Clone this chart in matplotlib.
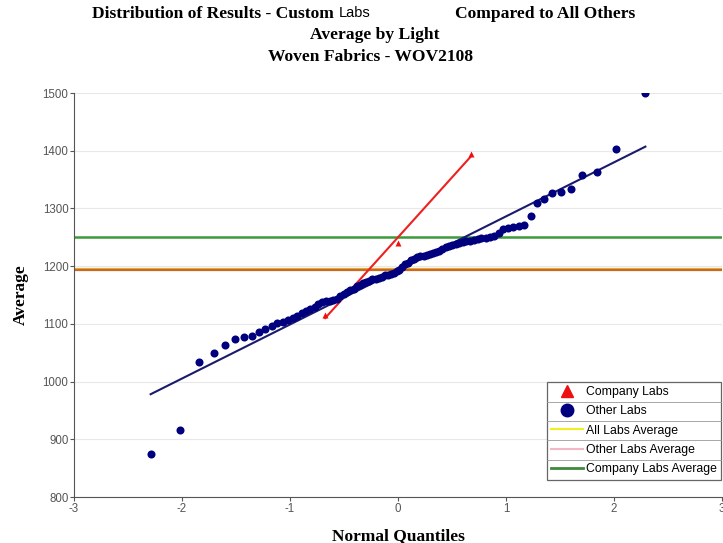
import numpy as np
import matplotlib
matplotlib.use('Agg')
import matplotlib.pyplot as plt
from matplotlib.lines import Line2D
from statistics import NormalDist

plt.rcParams['axes.unicode_minus'] = False

# 데이터
other_labs = [875, 916, 1034, 1049, 1063, 1074, 1077, 1079, 1086, 1091,
              1097, 1101, 1103, 1106, 1110, 1114, 1118, 1122, 1126, 1130,
              1135, 1138, 1139, 1140, 1141, 1143, 1148, 1152, 1155, 1158,
              1161, 1165, 1168, 1171, 1173, 1175, 1177, 1178, 1180, 1182,
              1184, 1185, 1187, 1189, 1191, 1194, 1199, 1203, 1206, 1210,
              1213, 1215, 1217, 1218, 1219, 1221, 1223, 1225, 1227, 1230,
              1233, 1235, 1237, 1239, 1240, 1242, 1243, 1244, 1245, 1247,
              1248, 1249, 1251, 1253, 1257, 1264, 1266, 1268, 1269, 1272,
              1287, 1309, 1316, 1327, 1328, 1334, 1358, 1363, 1403, 1500]
company_labs = [1115, 1240, 1395]

x_ticks = [-3, -2, -1, 0, 1, 2, 3]
y_ticks = [800, 900, 1000, 1100, 1200, 1300, 1400, 1500]

legend_labels = ['Company Labs', 'Other Labs', 'All Labs Average',
                 'Other Labs Average', 'Company Labs Average']


def normal_quantiles(vals):
    n = len(vals)
    nd = NormalDist()
    return np.array([nd.inv_cdf(i / (n + 1)) for i in range(1, n + 1)])


other = np.sort(np.array(other_labs, dtype=float))
comp = np.sort(np.array(company_labs, dtype=float))
zo = normal_quantiles(other)
zc = normal_quantiles(comp)

all_avg = np.mean(np.concatenate([other, comp]))
other_avg = other.mean()
comp_avg = comp.mean()

fig = plt.figure(figsize=(7.23, 5.43), dpi=100)
ax = fig.add_axes([0.1024, 0.0847, 0.8962, 0.744])

ax.set_xlim(-3, 3)
ax.set_ylim(800, 1500)
ax.set_xticks(x_ticks)
ax.set_yticks(y_ticks)
ax.yaxis.grid(True, color='#e8e8e8', lw=0.8)
ax.set_axisbelow(True)
for s in ['top', 'right']:
    ax.spines[s].set_visible(False)
for s in ['left', 'bottom']:
    ax.spines[s].set_color('#555555')
ax.tick_params(colors='#555555', labelsize=8.3, length=3, pad=1)
for lab in ax.get_xticklabels() + ax.get_yticklabels():
    lab.set_family('Liberation Sans')

# 평균선
ax.axhline(comp_avg, color='#3c9a3c', lw=1.8)
ax.axhline(all_avg, color='#e8b428', lw=1.6)
ax.axhline(other_avg, color='#c8682c', lw=1.6)

# 회귀선
po = np.polyfit(zo, other, 1)
pc = np.polyfit(zc, comp, 1)
ax.plot([zo[0], zo[-1]], np.polyval(po, [zo[0], zo[-1]]), color='#1a1a6e', lw=1.5)
ax.plot([zc[0], zc[-1]], np.polyval(pc, [zc[0], zc[-1]]), color='#ee2020', lw=1.5)

ax.plot(zo, other, 'o', color='#00007f', ms=5.8, mec='none')
ax.plot(zc, comp, '^', color='#ee1010', ms=5, mec='none')

ax.set_xlabel('Normal Quantiles', family='Liberation Serif', fontweight='bold',
              fontsize=12.5, labelpad=10)
ax.set_ylabel('Average', family='Liberation Serif', fontweight='bold',
              fontsize=12.5, labelpad=10)

# 범례
handles = [Line2D([], [], ls='none', marker='^', color='#ee1010', ms=9),
           Line2D([], [], ls='none', marker='o', color='#00007f', ms=9),
           Line2D([], [], color='#f0f020', lw=1.5),
           Line2D([], [], color='#f4b8c4', lw=1.5),
           Line2D([], [], color='#3c8a3c', lw=2)]
leg = ax.legend(handles, legend_labels, loc='lower right',
                bbox_to_anchor=(0.9985, 0.043), fancybox=False,
                edgecolor='#666666', framealpha=1,
                prop={'family': 'Liberation Sans', 'size': 8.8},
                handlelength=2.6, handletextpad=0.25, labelspacing=0.6,
                borderpad=0.35, borderaxespad=0)
leg.get_frame().set_linewidth(0.9)

# 제목
ttl = dict(family='Liberation Serif', fontweight='bold', va='center', fontsize=12.6)
fig.text(92 / 723, 1 - 14 / 543, 'Distribution of Results - Custom', ha='left', **ttl)
fig.text(339 / 723, 1 - 13 / 543, 'Labs', ha='left', va='center',
         family='Liberation Sans', fontsize=10.5)
fig.text(545 / 723, 1 - 14 / 543, 'Compared to All Others', ha='center', **ttl)
fig.text(375 / 723, 1 - 35 / 543, 'Average by Light', ha='center', **ttl)
fig.text(371 / 723, 1 - 57 / 543, 'Woven Fabrics - WOV2108', ha='center', **ttl)

# 범례 구분선
fig.canvas.draw()
r = fig.canvas.get_renderer()
lb = leg.get_window_extent(r)
cy = [t.get_window_extent(r).y0 + t.get_window_extent(r).height / 2 for t in leg.get_texts()]
W, H = fig.bbox.width, fig.bbox.height
for a, b in zip(cy[:-1], cy[1:]):
    y = (a + b) / 2
    fig.add_artist(Line2D([lb.x0 / W, lb.x1 / W], [y / H, y / H],
                          color='#999999', lw=0.6, transform=fig.transFigure))

fig.savefig('out.png', dpi=100)
